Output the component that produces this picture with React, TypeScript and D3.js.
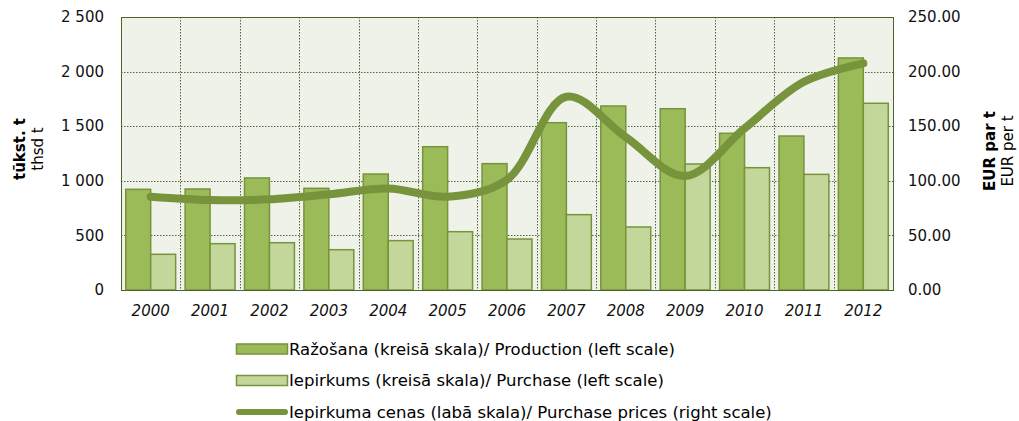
import React, {useEffect, useRef} from "react";
import * as d3 from "d3";

const years = ["2000", "2001", "2002", "2003", "2004", "2005", "2006", "2007", "2008", "2009", "2010", "2011", "2012"];
const production = [922, 925, 1026, 931, 1062, 1312, 1157, 1532, 1685, 1660, 1435, 1410, 2125];
const purchase = [327, 424, 433, 369, 452, 534, 467, 690, 577, 1154, 1120, 1059, 1710];
const prices = [85.4, 82.4, 83, 87.6, 93, 85.4, 101, 177, 140, 104.4, 148, 190.7, 207.6];
const leftTicks = [0, 500, 1000, 1500, 2000, 2500];
const rightTicks = [0, 50, 100, 150, 200, 250];
const legendItems = [
    {label: "Ražošana (kreisā skala)/ Production (left scale)", kind: "bar", fill: "#9BBB59"},
    {label: "Iepirkums (kreisā skala)/ Purchase (left scale)", kind: "bar", fill: "#C4D79B"},
    {label: "Iepirkuma cenas (labā skala)/ Purchase prices (right scale)", kind: "line", fill: "#77933C"},
];

const W = 1019;
const H = 421;
const plot = {left: 121, right: 893, top: 17, bottom: 290};
const font = "'DejaVu Sans', Verdana, sans-serif";

const App: React.FC = () => {
    const ref = useRef<SVGSVGElement | null>(null);

    useEffect(() => {
        if (!ref.current) return;
        const svg = d3.select(ref.current);
        svg.selectAll("*").remove();

        const x = d3.scaleBand().domain(years).range([plot.left, plot.right]);
        const inner = d3.scaleBand().domain(["p", "q"]).range([0, x.bandwidth()]).paddingOuter(0.19).paddingInner(0);
        const yL = d3.scaleLinear().domain([0, 2500]).range([plot.bottom, plot.top]);
        const yR = d3.scaleLinear().domain([0, 250]).range([plot.bottom, plot.top]);

        // plot background
        svg.append("rect")
            .attr("x", plot.left).attr("y", plot.top)
            .attr("width", plot.right - plot.left).attr("height", plot.bottom - plot.top)
            .attr("fill", "#EEF2E9");

        // gridlines
        const grid = svg.append("g").attr("stroke", "#55663A").attr("stroke-width", 1).attr("stroke-dasharray", "1.5,1.5");
        grid.selectAll("line.h")
            .data(leftTicks.slice(1, -1))
            .join("line")
            .attr("x1", plot.left).attr("x2", plot.right)
            .attr("y1", (d) => Math.round(yL(d)) + 0.5).attr("y2", (d) => Math.round(yL(d)) + 0.5);
        grid.selectAll("line.v")
            .data(years.slice(1))
            .join("line")
            .attr("x1", (d) => Math.round(x(d)!) + 0.5).attr("x2", (d) => Math.round(x(d)!) + 0.5)
            .attr("y1", plot.top).attr("y2", plot.bottom);

        // bars
        const g = svg.append("g");
        g.selectAll("rect.prod")
            .data(production)
            .join("rect")
            .attr("x", (_, i) => x(years[i])! + inner("p")!)
            .attr("y", (d) => yL(d))
            .attr("width", inner.bandwidth())
            .attr("height", (d) => plot.bottom - yL(d))
            .attr("fill", "#9BBB59")
            .attr("stroke", "#77933C")
            .attr("stroke-width", 1.5);
        g.selectAll("rect.purch")
            .data(purchase)
            .join("rect")
            .attr("x", (_, i) => x(years[i])! + inner("q")!)
            .attr("y", (d) => yL(d))
            .attr("width", inner.bandwidth())
            .attr("height", (d) => plot.bottom - yL(d))
            .attr("fill", "#C4D79B")
            .attr("stroke", "#77933C")
            .attr("stroke-width", 1.5);

        // plot border
        svg.append("rect")
            .attr("x", plot.left + 0.5).attr("y", plot.top + 0.5)
            .attr("width", plot.right - plot.left).attr("height", plot.bottom - plot.top)
            .attr("fill", "none").attr("stroke", "#4F6228").attr("stroke-width", 1);

        // price line
        const line = d3.line<number>()
            .x((_, i) => x(years[i])! + x.bandwidth() / 2)
            .y((d) => yR(d))
            .curve(d3.curveCatmullRom.alpha(0.5));
        svg.append("path")
            .attr("d", line(prices))
            .attr("fill", "none")
            .attr("stroke", "#77933C")
            .attr("stroke-width", 8)
            .attr("stroke-linecap", "round")
            .attr("stroke-linejoin", "round");

        // axes labels
        const fmtL = (d: number) => d3.format(",")(d).replace(/,/g, " ");
        svg.append("g").selectAll("text")
            .data(leftTicks)
            .join("text")
            .attr("x", 104).attr("y", (d) => yL(d))
            .attr("dy", "0.35em")
            .attr("text-anchor", "end")
            .attr("font-family", font).attr("font-size", 15).attr("fill", "#111")
            .text(fmtL);
        svg.append("g").selectAll("text")
            .data(rightTicks)
            .join("text")
            .attr("x", 908).attr("y", (d) => yR(d))
            .attr("dy", "0.35em")
            .attr("text-anchor", "start")
            .attr("font-family", font).attr("font-size", 15).attr("fill", "#111")
            .text((d) => d3.format(".2f")(d));
        svg.append("g").selectAll("text")
            .data(years)
            .join("text")
            .attr("x", (d) => x(d)! + x.bandwidth() / 2).attr("y", 311)
            .attr("dy", "0.35em")
            .attr("text-anchor", "middle")
            .attr("font-family", font).attr("font-size", 15).attr("font-style", "italic").attr("fill", "#111")
            .text((d) => d);

        // axis titles
        const titleL = svg.append("text")
            .attr("transform", "translate(20,149) rotate(-90)")
            .attr("text-anchor", "middle")
            .attr("font-family", font).attr("font-size", 15).attr("fill", "#000");
        titleL.append("tspan").attr("x", 0).attr("dy", "0.35em").attr("font-weight", "bold").text("tūkst. t");
        titleL.append("tspan").attr("x", 0).attr("dy", "1.15em").text("thsd t");

        const titleR = svg.append("text")
            .attr("transform", "translate(990,151) rotate(-90)")
            .attr("text-anchor", "middle")
            .attr("font-family", font).attr("font-size", 15).attr("fill", "#000");
        titleR.append("tspan").attr("x", 0).attr("dy", "0.35em").attr("font-weight", "bold").text("EUR par t");
        titleR.append("tspan").attr("x", 0).attr("dy", "1.15em").text("EUR per t");

        // legend
        const leg = svg.append("g").selectAll("g")
            .data(legendItems)
            .join("g")
            .attr("transform", (_, i) => `translate(236,${349 + i * 31.5})`);
        leg.filter((d) => d.kind === "bar")
            .append("rect")
            .attr("x", 0.5).attr("y", -5).attr("width", 51).attr("height", 10)
            .attr("fill", (d) => d.fill).attr("stroke", "#77933C").attr("stroke-width", 1.5);
        leg.filter((d) => d.kind === "line")
            .append("line")
            .attr("x1", 3).attr("x2", 49).attr("y1", 0).attr("y2", 0)
            .attr("stroke", (d) => d.fill).attr("stroke-width", 6).attr("stroke-linecap", "round");
        leg.append("text")
            .attr("x", 53).attr("y", 0).attr("dy", "0.35em")
            .attr("font-family", font).attr("font-size", 16.5).attr("fill", "#000")
            .text((d) => d.label);
    }, []);

    return (
        <svg ref={ref} width={W} height={H} viewBox={`0 0 ${W} ${H}`}
             style={{position: "absolute", left: 0, top: 0, display: "block", background: "#fff"}}/>
    );
};

export default App;
